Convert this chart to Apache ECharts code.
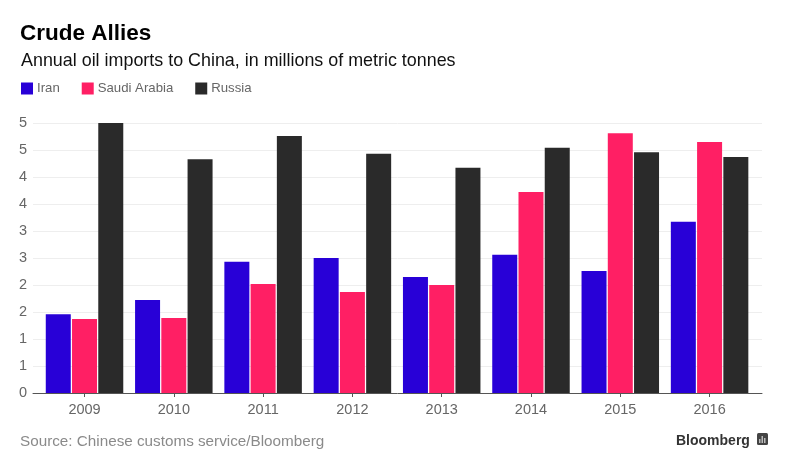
<!DOCTYPE html>
<html>
<head>
<meta charset="utf-8">
<style>html,body{margin:0;padding:0;background:#fff}#main{width:788px;height:469px}</style>
<script src="https://cdn.jsdelivr.net/npm/echarts@6/dist/echarts.min.js"></script>
</head>
<body>
<div id="main"></div>
<script>
const years = [2009, 2010, 2011, 2012, 2013, 2014, 2015, 2016];
const iran = [1.46, 1.72, 2.43, 2.5, 2.15, 2.56, 2.26, 3.17];
const saudi = [1.37, 1.39, 2.02, 1.87, 2.0, 3.72, 4.81, 4.65];
const russia = [5.0, 4.33, 4.76, 4.43, 4.17, 4.54, 4.46, 4.37];

const font = '"Liberation Sans", Arial, sans-serif';

function barSeries(name, color, values) {
  return {
    name: name,
    type: 'bar',
    barWidth: 25,
    barGap: '5%',
    itemStyle: {color: color},
    emphasis: {disabled: true},
    data: years.map((y, i) => [y, values[i]])
  };
}

const myChart = echarts.init(document.getElementById('main'));
myChart.setOption({
  animation: false,
  backgroundColor: '#fff',
  title: [
    {text: 'Crude Allies', left: 20, top: 22, padding: 0, textStyle: {fontFamily: font, fontSize: 22.5, fontWeight: 'bold', color: '#000'}},
    {text: 'Annual oil imports to China, in millions of metric tonnes', left: 21, top: 52, padding: 0, textStyle: {fontFamily: font, fontSize: 17.9, fontWeight: 'normal', color: '#111'}},
    {text: 'Source: Chinese customs service/Bloomberg', left: 20, top: 434, padding: 0, textStyle: {fontFamily: font, fontSize: 15.25, fontWeight: 'normal', color: '#8a8a8a'}},
    {text: 'Bloomberg', left: 676, top: 434, padding: 0, textStyle: {fontFamily: font, fontSize: 14, fontWeight: 'bold', color: '#333'}}
  ],
  legend: {
    left: 21,
    top: 82,
    itemWidth: 12,
    itemHeight: 12,
    itemGap: 22,
    icon: 'rect',
    padding: 0,
    selectedMode: false,
    textStyle: {fontFamily: font, fontSize: 13.2, color: '#666', padding: [2, 0, 0, -1]},
    data: ['Iran', 'Saudi Arabia', 'Russia']
  },
  grid: {left: 33, right: 26, top: 123, bottom: 76},
  xAxis: {
    type: 'value',
    min: 2008.423,
    max: 2016.587,
    splitLine: {show: false},
    axisLine: {show: true, lineStyle: {color: '#555', width: 1}},
    axisTick: {show: true, customValues: years, length: 4, lineStyle: {color: '#555'}},
    axisLabel: {
      show: true,
      customValues: years,
      formatter: v => String(v),
      margin: 9,
      fontFamily: font,
      fontSize: 14.5,
      color: '#666'
    }
  },
  yAxis: {
    type: 'value',
    min: 0,
    max: 5,
    interval: 0.5,
    axisLine: {show: false},
    axisTick: {show: false},
    splitLine: {lineStyle: {color: '#eeeeee', width: 1}},
    axisLabel: {
      margin: 6,
      fontFamily: font,
      fontSize: 14.5,
      color: '#666',
      formatter: v => String(Math.round(v))
    }
  },
  graphic: [
    {type: 'rect', left: 757, top: 433, shape: {width: 11, height: 12, r: 1.5}, style: {fill: '#444'}},
    {type: 'rect', left: 759, top: 439, shape: {width: 1.5, height: 4}, style: {fill: '#bbb'}},
    {type: 'rect', left: 761.5, top: 436, shape: {width: 1.5, height: 7}, style: {fill: '#bbb'}},
    {type: 'rect', left: 764, top: 438, shape: {width: 1.5, height: 5}, style: {fill: '#bbb'}}
  ],
  series: [
    barSeries('Iran', '#2800d7', iran),
    barSeries('Saudi Arabia', '#ff1f64', saudi),
    barSeries('Russia', '#2a2a2a', russia)
  ]
});
</script>
</body>
</html>
